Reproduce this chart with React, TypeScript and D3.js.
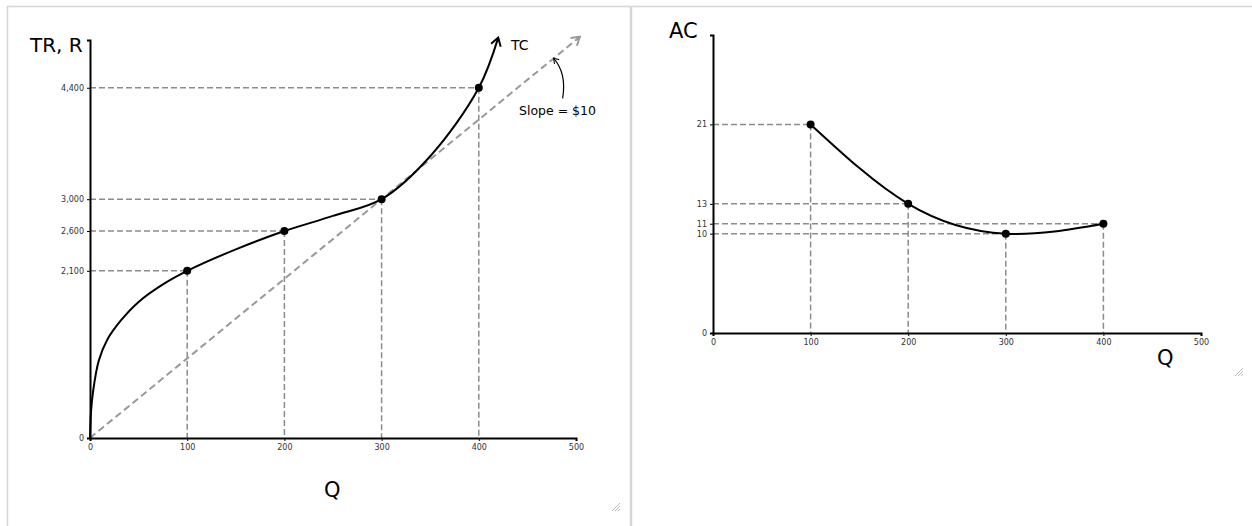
import React, { useEffect, useRef } from "react";
import * as d3 from "d3";

// ---------- data ----------
const qTicks = [0, 100, 200, 300, 400, 500];
const tcTickValues = [0, 2100, 2600, 3000, 4400];
const acTickValues = [0, 10, 11, 13, 21];

const tcMarkedQ = [100, 200, 300, 400];
const tcMarkedValues = [2100, 2600, 3000, 4400];

// TC curve
const tcCurveQ = [0, 1, 3, 9, 18, 32, 50, 75, 100, 150, 200, 250, 300, 350, 400, 420];
const tcCurveValues = [0, 320, 570, 970, 1240, 1480, 1710, 1930, 2100, 2370, 2600, 2790, 3000, 3540, 4400, 5030];

// slope = 10 line
const slopeQ = [0, 504];
const slopeValues = [0, 5040];

const acMarkedQ = [100, 200, 300, 400];
const acMarkedValues = [21, 13, 10, 11];

const FONT = "'DejaVu Sans', Verdana, sans-serif";

export default function App() {
  const ref = useRef<SVGSVGElement | null>(null);

  useEffect(() => {
    const svg = d3.select(ref.current);
    svg.selectAll("*").remove();

    const defs = svg.append("defs");
    const mk = (id: string, color: string) =>
      defs
        .append("marker")
        .attr("id", id)
        .attr("viewBox", "-10 -6 12 12")
        .attr("refX", 0)
        .attr("refY", 0)
        .attr("markerWidth", 12)
        .attr("markerHeight", 12)
        .attr("markerUnits", "userSpaceOnUse")
        .attr("orient", "auto")
        .append("path")
        .attr("d", "M-8,-5 L0,0 L-8,5")
        .attr("fill", "none")
        .attr("stroke", color)
        .attr("stroke-width", 2);
    mk("arrBlack", "#000");
    mk("arrGray", "#999");
    defs
      .append("marker")
      .attr("id", "arrSmall")
      .attr("viewBox", "-8 -5 10 10")
      .attr("refX", 0)
      .attr("refY", 0)
      .attr("markerWidth", 8)
      .attr("markerHeight", 8)
      .attr("markerUnits", "userSpaceOnUse")
      .attr("orient", "auto")
      .append("path")
      .attr("d", "M-6,-4 L0,0 L-6,4")
      .attr("fill", "none")
      .attr("stroke", "#000")
      .attr("stroke-width", 1.3);

    // panel borders
    const frame = svg.append("g");
    frame.append("line").attr("x1", 7).attr("x2", 1252).attr("y1", 6.5).attr("y2", 6.5).attr("stroke", "#d6d6d6").attr("stroke-width", 1.5);
    frame.append("line").attr("x1", 7.5).attr("x2", 7.5).attr("y1", 6).attr("y2", 526).attr("stroke", "#d6d6d6").attr("stroke-width", 1.5);
    frame.append("line").attr("x1", 631).attr("x2", 631).attr("y1", 6).attr("y2", 526).attr("stroke", "#d6d6d6").attr("stroke-width", 2.5);

    // resize grips
    const grip = (x: number, y: number) => {
      const g = svg.append("g").attr("stroke", "#aaa").attr("stroke-width", 0.8);
      [0, 3, 6].forEach((o) => g.append("line").attr("x1", x + o).attr("y1", y + 8).attr("x2", x + 8).attr("y2", y + o));
    };
    grip(612, 503);
    grip(1235, 368);

    const dashColor = "#8c8c8c";

    const styleAxis = (a: any) => {
      a.select(".domain").attr("stroke", "#000").attr("stroke-width", 2);
      a.selectAll("line").attr("stroke", "#000");
      a.selectAll("text").attr("font-family", FONT).attr("font-size", 8).attr("fill", "#333");
    };

    // ---------- Left chart ----------
    {
      const x = d3.scaleLinear().domain([0, 500]).range([90, 576]);
      const y = d3.scaleLinear().domain([0, 5000]).range([438, 40]);
      const g = svg.append("g");

      tcMarkedQ.forEach((q, i) => {
        const v = tcMarkedValues[i];
        g.append("line").attr("x1", x(0)).attr("x2", x(q)).attr("y1", y(v)).attr("y2", y(v))
          .attr("stroke", dashColor).attr("stroke-width", 1.5).attr("stroke-dasharray", "6,3");
        g.append("line").attr("x1", x(q)).attr("x2", x(q)).attr("y1", y(v)).attr("y2", y(0))
          .attr("stroke", dashColor).attr("stroke-width", 1.5).attr("stroke-dasharray", "6,3");
      });

      const sl = d3.line<number>().x((d) => x(slopeQ[d])).y((d) => y(slopeValues[d]));
      g.append("path").attr("d", sl([0, 1])).attr("fill", "none").attr("stroke", "#999")
        .attr("stroke-width", 2).attr("stroke-dasharray", "7,4").attr("marker-end", "url(#arrGray)");

      const line = d3.line<number>().x((d) => x(tcCurveQ[d])).y((d) => y(tcCurveValues[d])).curve(d3.curveCatmullRom.alpha(0.5));
      g.append("path").attr("d", line(tcCurveQ.map((_, i) => i))).attr("fill", "none").attr("stroke", "#000")
        .attr("stroke-width", 2).attr("marker-end", "url(#arrBlack)");

      tcMarkedQ.forEach((q, i) => {
        g.append("circle").attr("cx", x(q)).attr("cy", y(tcMarkedValues[i])).attr("r", 4).attr("fill", "#000");
      });

      const ax = g.append("g").attr("transform", `translate(0,${y(0)})`)
        .call(d3.axisBottom(x).tickValues(qTicks).tickSize(3).tickSizeOuter(3).tickFormat(d3.format("d")));
      const ay = g.append("g").attr("transform", `translate(${x(0)},0)`)
        .call(d3.axisLeft(y).tickValues(tcTickValues).tickSize(3).tickSizeOuter(3).tickFormat(d3.format(",")));
      styleAxis(ax);
      styleAxis(ay);

      g.append("text").attr("x", 30).attr("y", 52).attr("font-family", FONT).attr("font-size", 20).text("TR, R");
      g.append("text").attr("x", x(250) - 9).attr("y", 497).attr("font-family", FONT).attr("font-size", 21).text("Q");
      g.append("text").attr("x", 511).attr("y", 50).attr("font-family", FONT).attr("font-size", 14).text("TC");
      g.append("text").attr("x", 519).attr("y", 115).attr("font-family", FONT).attr("font-size", 12.5).text("Slope = $10");

      const tq = 477;
      const tx = x(tq), ty = y(tq * 10);
      g.append("path")
        .attr("d", `M${tx + 9},${ty + 40} C${tx + 12},${ty + 22} ${tx + 8},${ty + 9} ${tx},${ty}`)
        .attr("fill", "none").attr("stroke", "#000").attr("stroke-width", 1.2).attr("marker-end", "url(#arrSmall)");
    }

    // ---------- Right chart ----------
    {
      const x = d3.scaleLinear().domain([0, 500]).range([713, 1201]);
      const y = d3.scaleLinear().domain([0, 30]).range([333, 35]);
      const g = svg.append("g");

      acMarkedQ.forEach((q, i) => {
        const v = acMarkedValues[i];
        g.append("line").attr("x1", x(0)).attr("x2", x(q)).attr("y1", y(v)).attr("y2", y(v))
          .attr("stroke", dashColor).attr("stroke-width", 1.5).attr("stroke-dasharray", "6,3");
        g.append("line").attr("x1", x(q)).attr("x2", x(q)).attr("y1", y(v)).attr("y2", y(0))
          .attr("stroke", dashColor).attr("stroke-width", 1.5).attr("stroke-dasharray", "6,3");
      });

      const line = d3.line<number>().x((d) => x(acMarkedQ[d])).y((d) => y(acMarkedValues[d])).curve(d3.curveNatural);
      g.append("path").attr("d", line(acMarkedQ.map((_, i) => i))).attr("fill", "none").attr("stroke", "#000").attr("stroke-width", 2);

      acMarkedQ.forEach((q, i) => {
        g.append("circle").attr("cx", x(q)).attr("cy", y(acMarkedValues[i])).attr("r", 4).attr("fill", "#000");
      });

      const ax = g.append("g").attr("transform", `translate(0,${y(0)})`)
        .call(d3.axisBottom(x).tickValues(qTicks).tickSize(3).tickSizeOuter(3).tickFormat(d3.format("d")));
      const ay = g.append("g").attr("transform", `translate(${x(0)},0)`)
        .call(d3.axisLeft(y).tickValues(acTickValues).tickSize(3).tickSizeOuter(3).tickFormat(d3.format("d")));
      styleAxis(ax);
      styleAxis(ay);

      g.append("text").attr("x", 669).attr("y", 38).attr("font-family", FONT).attr("font-size", 21).text("AC");
      g.append("text").attr("x", 1157).attr("y", 365).attr("font-family", FONT).attr("font-size", 21).text("Q");
    }
  }, []);

  return (
    <svg
      ref={ref}
      width={1252}
      height={526}
      style={{ position: "absolute", left: 0, top: 0, background: "#fff" }}
    />
  );
}
